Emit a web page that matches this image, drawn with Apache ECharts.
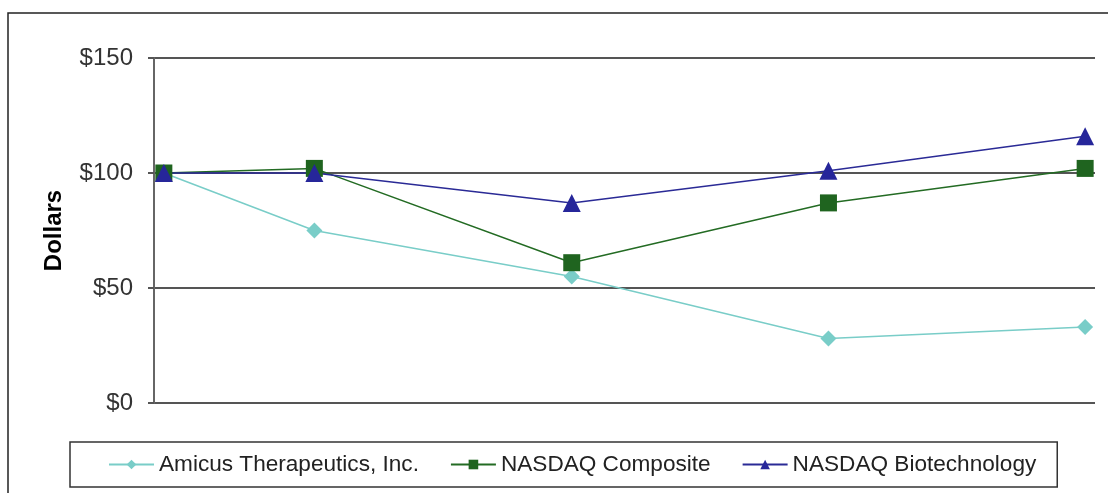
<!DOCTYPE html>
<html>
<head>
<meta charset="utf-8">
<script src="https://cdn.jsdelivr.net/npm/echarts@6/dist/echarts.min.js"></script>
<style>
    html, body { margin: 0; padding: 0; background: #fff; }
    #chart { width: 1108px; height: 493px; }
</style>
</head>
<body>
<div id="chart"></div>
<script>
    // measurement dates (IPO then year ends)
    var dates = ['2007-05-31', '2007-12-31', '2008-12-31', '2009-12-31', '2010-12-31'];
    var amicus = [100, 75, 55, 28, 33];
    var composite = [100, 102, 61, 87, 102];
    var biotech = [100, 100, 87, 101, 116];
    var seriesNames = ['Amicus Therapeutics, Inc.', 'NASDAQ Composite', 'NASDAQ Biotechnology'];

    function pairs(vals) {
        var out = [];
        for (var i = 0; i < dates.length; i++) {
            out.push([dates[i], vals[i]]);
        }
        return out;
    }

    var font = 'Liberation Sans, Arial, sans-serif';
    var myChart = echarts.init(document.getElementById('chart'));

    var option = {
        animation: false,
        backgroundColor: '#fff',
        graphic: [{
            type: 'rect',
            shape: { x: 8, y: 13, width: 1200, height: 600 },
            style: { fill: 'none', stroke: '#222', lineWidth: 1.5 },
            silent: true
        }],
        grid: { left: 154, right: 13, top: 58, bottom: 90 },
        xAxis: {
            type: 'time',
            min: '2007-05-17',
            max: '2011-01-14',
            axisLine: { show: false },
            axisTick: { show: false },
            axisLabel: { show: false },
            splitLine: { show: false }
        },
        yAxis: {
            type: 'value',
            min: 0,
            max: 150,
            interval: 50,
            name: 'Dollars',
            nameLocation: 'middle',
            nameGap: 88,
            nameTextStyle: { fontFamily: font, fontSize: 24, fontWeight: 'bold', color: '#000' },
            axisLine: { show: true, lineStyle: { color: '#666', width: 2 } },
            axisTick: { show: true, length: 6, lineStyle: { color: '#555', width: 2 } },
            axisLabel: {
                margin: 21,
                fontFamily: font,
                fontSize: 24,
                color: '#333',
                formatter: function(v) { return '$' + v; }
            },
            splitLine: { show: true, lineStyle: { color: '#555', width: 2 } }
        },
        legend: {
            left: 70,
            top: 442,
            padding: [11, 21, 11, 38],
            itemGap: 31,
            itemWidth: 45,
            itemHeight: 12,
            borderColor: '#333',
            borderWidth: 1.5,
            textStyle: { fontFamily: font, fontSize: 22.6, color: '#222', padding: [0, 0, 0, 0] },
            data: seriesNames
        },
        series: [{
                name: seriesNames[0],
                type: 'line',
                data: pairs(amicus),
                symbol: 'diamond',
                symbolSize: 16,
                lineStyle: { color: '#79CDC8', width: 1.5 },
                itemStyle: { color: '#79CDC8' }
            },
            {
                name: seriesNames[1],
                type: 'line',
                data: pairs(composite),
                symbol: 'rect',
                symbolSize: 17,
                lineStyle: { color: '#236B23', width: 1.5 },
                itemStyle: { color: '#1F641F' }
            },
            {
                name: seriesNames[2],
                type: 'line',
                data: pairs(biotech),
                symbol: 'triangle',
                symbolSize: 18,
                lineStyle: { color: '#2A2A96', width: 1.5 },
                itemStyle: { color: '#26269A' }
            }
        ]
    };
    myChart.setOption(option);
</script>
</body>
</html>
